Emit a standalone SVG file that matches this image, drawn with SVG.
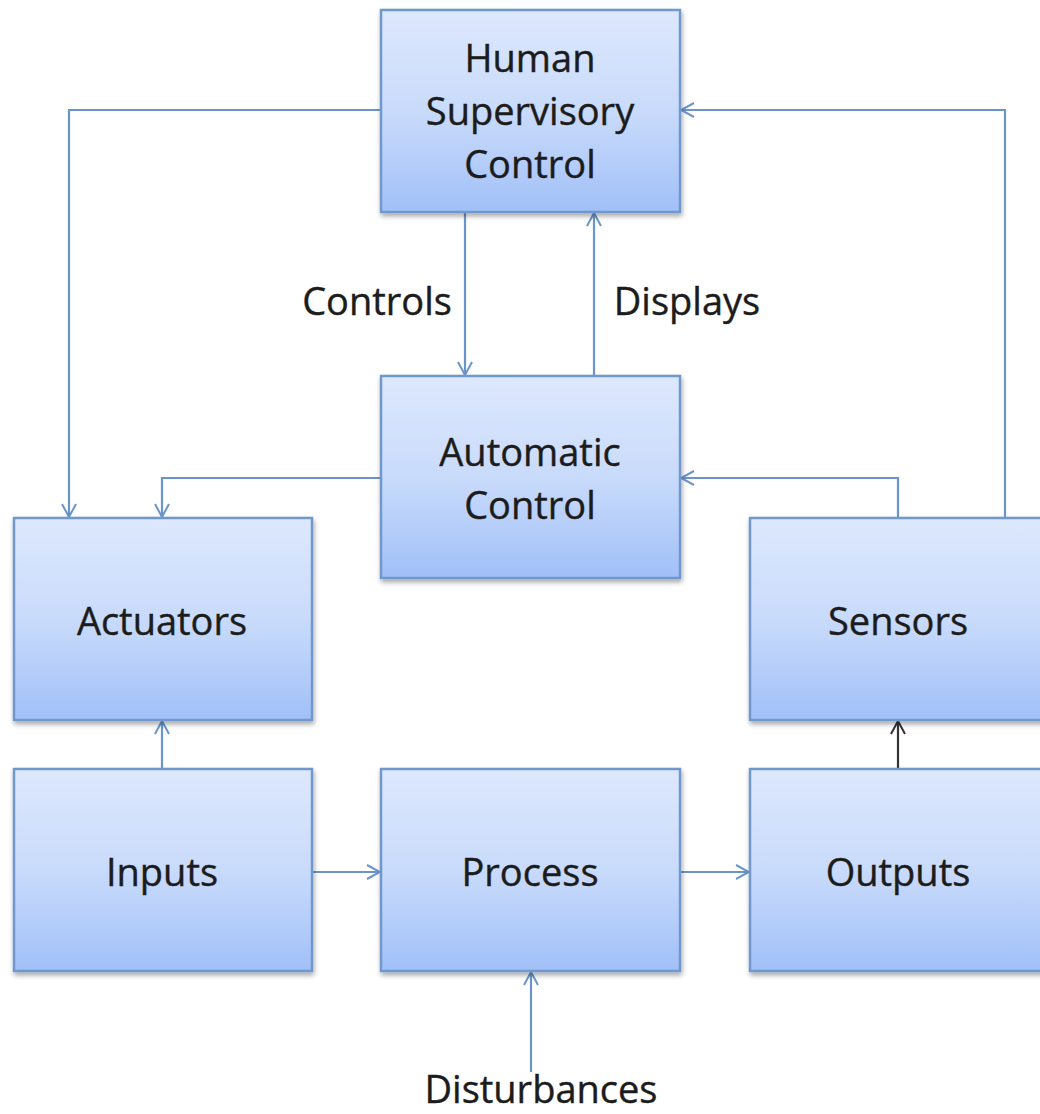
<svg xmlns="http://www.w3.org/2000/svg" width="1040" height="1114" viewBox="0 0 1040 1114">
  <defs>
    <linearGradient id="boxFill" x1="0" y1="0" x2="0" y2="1">
      <stop offset="0" stop-color="#dde8fd"/>
      <stop offset="0.5" stop-color="#c9dbfb"/>
      <stop offset="1" stop-color="#a1c0f8"/>
    </linearGradient>
    <filter id="shadow" x="-10%" y="-10%" width="120%" height="120%">
      <feGaussianBlur in="SourceAlpha" stdDeviation="2.5"/>
      <feOffset dx="1" dy="3" result="b"/>
      <feComponentTransfer><feFuncA type="linear" slope="0.35"/></feComponentTransfer>
      <feMerge><feMergeNode/><feMergeNode in="SourceGraphic"/></feMerge>
    </filter>
    <marker id="arrow" viewBox="0 0 16 16" refX="15" refY="8" markerWidth="16" markerHeight="16" markerUnits="userSpaceOnUse" orient="auto">
      <path d="M2,1 L15,8 L2,15" fill="none" stroke="#6a95cc" stroke-width="2"/>
    </marker>
    <marker id="arrowDark" viewBox="0 0 16 16" refX="15" refY="8" markerWidth="16" markerHeight="16" markerUnits="userSpaceOnUse" orient="auto">
      <path d="M2,1 L15,8 L2,15" fill="none" stroke="#333333" stroke-width="2"/>
    </marker>
  </defs>
  <style>
    .box { fill: url(#boxFill); stroke: #6f98cc; stroke-width: 2.5; filter: url(#shadow); }
    .lbl { font-family: "Open Sans", "Noto Sans", sans-serif; font-size: 38px; fill: #1c1c1c; stroke: #1c1c1c; stroke-width: 0.4; text-anchor: middle; }
    .wire { fill: none; stroke: #6a95cc; stroke-width: 2.2; marker-end: url(#arrow); }
    .wire-dark { fill: none; stroke: #333333; stroke-width: 2.2; marker-end: url(#arrowDark); }
  </style>
  <rect width="1040" height="1114" fill="#ffffff"/>

  <!-- connectors -->
  <g id="connectors">
    <path class="wire" d="M381,110 H69 V517"/>
    <path class="wire" d="M1005,518 V110 H681"/>
    <path class="wire" d="M465,212 V375"/>
    <path class="wire" d="M594,376 V213"/>
    <path class="wire" d="M381,478 H162 V517"/>
    <path class="wire" d="M898,518 V478 H681"/>
    <path class="wire" d="M162,769 V721"/>
    <path class="wire" d="M312,872 H380"/>
    <path class="wire" d="M680,872 H749"/>
    <path class="wire-dark" d="M898,769 V721"/>
    <path class="wire" d="M531,1072 V972"/>
    <text class="lbl" x="377" y="315">Controls</text>
    <text class="lbl" x="687" y="315">Displays</text>
    <text class="lbl" x="541" y="1103">Disturbances</text>
  </g>

  <g id="human-supervisory-control">
    <rect class="box" x="381" y="10" width="299" height="202"/>
    <text class="lbl" x="530" y="72">Human</text>
    <text class="lbl" x="530" y="125">Supervisory</text>
    <text class="lbl" x="530" y="178">Control</text>
  </g>
  <g id="automatic-control">
    <rect class="box" x="381" y="376" width="299" height="202"/>
    <text class="lbl" x="530" y="466">Automatic</text>
    <text class="lbl" x="530" y="519">Control</text>
  </g>
  <g id="actuators">
    <rect class="box" x="14" y="518" width="298" height="202"/>
    <text class="lbl" x="162" y="635">Actuators</text>
  </g>
  <g id="sensors">
    <rect class="box" x="750" y="518" width="298" height="202"/>
    <text class="lbl" x="898" y="635">Sensors</text>
  </g>
  <g id="inputs">
    <rect class="box" x="14" y="769" width="298" height="202"/>
    <text class="lbl" x="162" y="886">Inputs</text>
  </g>
  <g id="process">
    <rect class="box" x="381" y="769" width="299" height="202"/>
    <text class="lbl" x="530" y="886">Process</text>
  </g>
  <g id="outputs">
    <rect class="box" x="750" y="769" width="298" height="202"/>
    <text class="lbl" x="898" y="886">Outputs</text>
  </g>
</svg>
